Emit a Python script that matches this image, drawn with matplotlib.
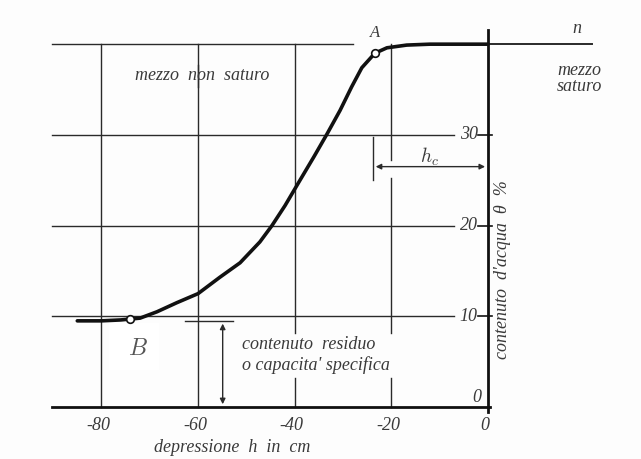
import matplotlib.pyplot as plt
from matplotlib.patches import Rectangle

plt.rcParams['mathtext.fontset'] = 'cm'

# curve: depression h (cm) vs water content theta (%)
h_curve = [-85, -80, -76, -74, -72, -68.5, -64.4, -60, -55.5, -51.3, -47.2, -44.7, -42,
           -38.9, -36, -33.3, -30.6, -28.2, -26.1, -23.4, -20.9, -16.8, -12, 0]
theta_curve = [9.5, 9.5, 9.6, 9.7, 9.8, 10.5, 11.5, 12.5, 14.3, 15.9, 18.2, 20.0, 22.2,
               25.0, 27.6, 30.1, 32.7, 35.3, 37.4, 39.0, 39.6, 39.9, 40.0, 40.0]

x_ticks = [-80, -60, -40, -20, 0]
x_labels = ['-80', '-60', '-40', '-20', '0']
y_ticks = [10, 20, 30]
y_labels = ['10', '20', '30']

point_A = (-23.4, 39.0)
point_B = (-74.0, 9.7)
residual = 9.5
h_c = -23.8

ink = '#2a2a2a'
txt = '#3a3a3a'
serif = 'Liberation Serif'

fig = plt.figure(figsize=(6.41, 4.59), dpi=100)
fig.patch.set_facecolor('#fdfdfd')
ax = fig.add_axes([0, 0, 1, 1])
ax.set_xlim(-101.0, 31.7)
ax.set_ylim(-5.73, 44.87)
ax.axis('off')

# horizontal grid lines
for t in y_ticks:
    ax.plot([-90.3, -7], [t, t], color=ink, lw=1.0)
ax.plot([-90.3, -28], [40, 40], color=ink, lw=1.0)
ax.plot([0, 21.5], [40, 40], color=ink, lw=1.4)

# vertical grid lines (with gaps around the texts)
ax.plot([-80, -80], [0, 40], color=ink, lw=1.0)
ax.plot([-60, -60], [0, 37.7], color=ink, lw=1.0)
ax.plot([-60, -60], [35.3, 40], color=ink, lw=1.0)
for g in [-40, -20]:
    ax.plot([g, g], [0, 3.2], color=ink, lw=1.0)
    ax.plot([g, g], [8.2, 40 if g == -40 else 25.2], color=ink, lw=1.0)
ax.plot([-20, -20], [27.2, 40], color=ink, lw=1.0)

# axes
ax.plot([-90.3, 0.5], [0, 0], color='#111111', lw=2.0)
ax.plot([0, 0], [0, 41.6], color='#111111', lw=2.0)
for t in y_ticks:
    ax.plot([-2, 0.8], [t, t], color='#111111', lw=1.2)
ax.plot([0, 0], [-0.6, 0], color='#111111', lw=2.0)

# curve
ax.plot(h_curve, theta_curve, color='#111111', lw=2.6, solid_capstyle='round',
        solid_joinstyle='round', zorder=4)
for p in [point_A, point_B]:
    ax.plot(*p, marker='o', ms=5.5, mfc='white', mec='#111111', mew=1.2, zorder=5)

ax.text(point_A[0], point_A[1] + 1.3, 'A', fontfamily=serif, style='italic', fontsize=12,
        color=txt, ha='center', va='bottom')
ax.add_patch(Rectangle((-78.5, 4.1), 10.5, 5.2, facecolor='white', edgecolor='none', zorder=3))
ax.text(-72.5, 6.5, '$B$', fontsize=17, color='#555555', ha='center', va='center', zorder=4)
ax.text(18.5, 40.8, 'n', fontfamily=serif, style='italic', fontsize=13, color=txt,
        ha='center', va='bottom')

# h_c dimension
ax.plot([h_c, h_c], [25.0, 29.8], color=ink, lw=1.0)
ax.annotate('', xy=(0, 26.5), xytext=(h_c, 26.5),
            arrowprops=dict(arrowstyle='<|-|>', color=ink, lw=1.0, mutation_scale=8))
ax.text(-12, 27.6, '$h_c$', fontsize=14, color=txt, ha='center', va='center')

# residual content dimension
ax.plot([-62.7, -52.8], [residual, residual], color=ink, lw=1.0)
ax.annotate('', xy=(-54.9, 0), xytext=(-54.9, residual),
            arrowprops=dict(arrowstyle='<|-|>', color=ink, lw=1.0, mutation_scale=8))

# texts
ax.text(-59.2, 36.5, 'mezzo  non  saturo', fontfamily=serif, style='italic', fontsize=13,
        color=txt, ha='center', va='center')
ax.text(19, 36.2, 'mezzo\nsaturo', fontfamily=serif, style='italic', fontsize=13,
        color=txt, ha='center', va='center', linespacing=0.95)
ax.text(-51, 5.7, 'contenuto  residuo\no capacita\' specifica', fontfamily=serif,
        style='italic', fontsize=13, color=txt, ha='left', va='center', linespacing=1.2)

for x, lab in zip(x_ticks, x_labels):
    ax.text(x - 0.6, -2.0, lab, fontfamily=serif, style='italic', fontsize=13,
            color=txt, ha='center', va='center')
for y, lab in zip(y_ticks, y_labels):
    ax.text(-2.1, y, lab, fontfamily=serif, style='italic', fontsize=13,
            color=txt, ha='right', va='center')
ax.text(-2.3, 1.0, '0', fontfamily=serif, style='italic', fontsize=13, color=txt,
        ha='center', va='center')

ax.text(-53, -4.5, 'depressione  h  in  cm', fontfamily=serif, style='italic',
        fontsize=13, color=txt, ha='center', va='center')
ax.text(3.1, 15.2, "contenuto  d'acqua  θ  %", fontfamily=serif, style='italic',
        fontsize=13, color=txt, ha='center', va='center', rotation=90)

fig.savefig('out.png', dpi=100, facecolor=fig.get_facecolor())
